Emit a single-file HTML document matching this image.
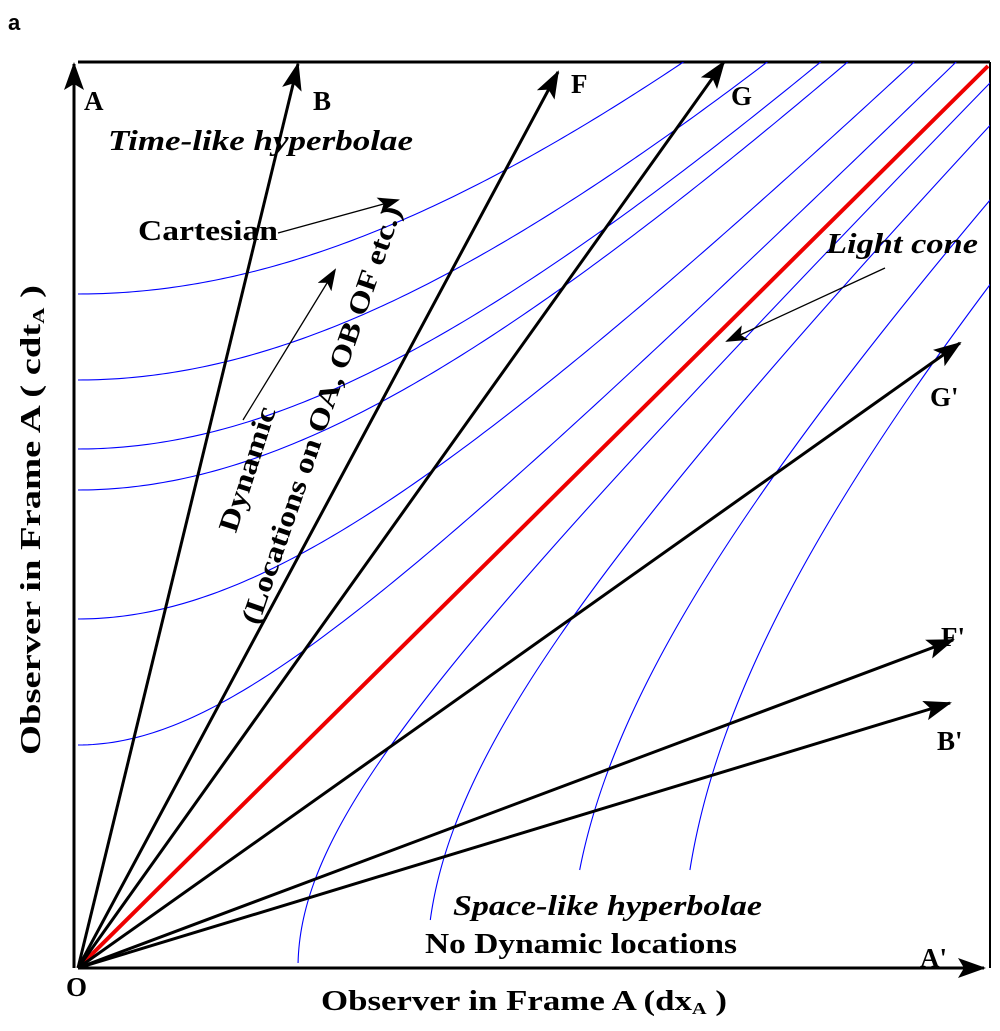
<!DOCTYPE html>
<html><head><meta charset="utf-8"><style>
html,body{margin:0;padding:0;background:#fff;}
svg{display:block;}
text{font-family:"Liberation Serif",serif;font-weight:bold;fill:#000;}
</style></head><body>
<svg width="1000" height="1031" viewBox="0 0 1000 1031" xmlns="http://www.w3.org/2000/svg">
<defs>
<marker id="ah" markerWidth="30" markerHeight="24" refX="26" refY="10" orient="auto" markerUnits="userSpaceOnUse">
<path d="M0,0 L28,10 L0,20 L6,10 Z" fill="#000"/>
</marker>
<marker id="sh" markerWidth="24" markerHeight="20" refX="20" refY="8" orient="auto" markerUnits="userSpaceOnUse">
<path d="M0,0 L22,8 L0,16 L5,8 Z" fill="#000"/>
</marker>
<clipPath id="box"><rect x="78" y="62" width="912" height="906"/></clipPath>
</defs>
<text x="8" y="30" style="font-family:'Liberation Sans',sans-serif" font-size="22">a</text>
<line x1="78" y1="62" x2="990" y2="62" stroke="#000" stroke-width="3"/>
<line x1="990" y1="62" x2="990" y2="968" stroke="#000" stroke-width="2"/>
<g clip-path="url(#box)" fill="none" stroke="#0000ff" stroke-width="1.1" id="hyp"></g>
<line x1="78" y1="968" x2="988" y2="66" stroke="#e00" stroke-width="4"/>
<line x1="74" y1="968" x2="74" y2="64" stroke="#000" stroke-width="3" marker-end="url(#ah)"/>
<line x1="78" y1="968" x2="984" y2="968" stroke="#000" stroke-width="3" marker-end="url(#ah)"/>
<g stroke="#000" stroke-width="3">
<line x1="78" y1="968" x2="298" y2="64" marker-end="url(#ah)"/>
<line x1="78" y1="968" x2="558" y2="72" marker-end="url(#ah)"/>
<line x1="78" y1="968" x2="724" y2="62" marker-end="url(#ah)"/>
<line x1="78" y1="968" x2="960" y2="343" marker-end="url(#ah)"/>
<line x1="78" y1="968" x2="953" y2="640" marker-end="url(#ah)"/>
<line x1="78" y1="968" x2="950" y2="703" marker-end="url(#ah)"/>
</g>
<g stroke="#000" stroke-width="1.3">
<line x1="278" y1="233" x2="398" y2="200" marker-end="url(#sh)"/>
<line x1="243" y1="420" x2="335" y2="270" marker-end="url(#sh)"/>
<line x1="885" y1="268" x2="727" y2="341" marker-end="url(#sh)"/>
</g>
<g font-size="27">
<text x="84" y="110">A</text>
<text x="313" y="110">B</text>
<text x="571" y="93">F</text>
<text x="731" y="105">G</text>
<text x="930" y="406">G'</text>
<text x="941" y="646">F'</text>
<text x="937" y="750">B'</text>
<text x="920" y="967">A'</text>
<text x="66" y="996">O</text>
</g>
<text x="108" y="150" font-size="28" font-style="italic" textLength="305" lengthAdjust="spacingAndGlyphs">Time-like  hyperbolae</text>
<text x="138" y="240" font-size="29" textLength="140" lengthAdjust="spacingAndGlyphs">Cartesian</text>
<text x="826" y="253" font-size="28" font-style="italic" textLength="152" lengthAdjust="spacingAndGlyphs">Light cone</text>
<text x="453" y="915" font-size="28" font-style="italic" textLength="309" lengthAdjust="spacingAndGlyphs">Space-like hyperbolae</text>
<text x="425" y="953" font-size="28" textLength="312" lengthAdjust="spacingAndGlyphs">No Dynamic locations</text>
<text x="321" y="1010" font-size="29" textLength="406" lengthAdjust="spacingAndGlyphs">Observer in Frame A  (dx<tspan font-size="17" dy="4">A</tspan><tspan dy="-4"> )</tspan></text>
<text transform="translate(40,520) rotate(-90)" text-anchor="middle" font-size="29" textLength="470" lengthAdjust="spacingAndGlyphs">Observer in Frame A  ( cdt<tspan font-size="17" dy="4">A</tspan><tspan dy="-4"> )</tspan></text>
<text transform="translate(256,472) rotate(-72)" text-anchor="middle" font-size="28" textLength="130" lengthAdjust="spacingAndGlyphs">Dynamic</text>
<text transform="translate(330,418) rotate(-71)" text-anchor="middle" font-size="28" textLength="440" lengthAdjust="spacingAndGlyphs">(Locations on OA, OB OF etc.)</text>
<script>
(function(){
var g=document.getElementById('hyp'),ns='http://www.w3.org/2000/svg';
function add(d){var p=document.createElementNS(ns,'path');p.setAttribute('d',d);g.appendChild(p);}
var ox=78,oy=968;
[674,588,519,478,349,223].forEach(function(a){
 var d='';for(var x=0;x<=1000;x+=5){var t=Math.sqrt(x*x+a*a);d+=(x?'L':'M')+(ox+x)+','+(oy-t);}add(d);
});
[[220,5],[349,48],[492,98],[604,98]].forEach(function(b){
 var d='';for(var t=b[1];t<=1000;t+=5){var x=Math.sqrt(t*t+b[0]*b[0]);d+=(t==b[1]?'M':'L')+(ox+x)+','+(oy-t);}add(d);
});
})();
</script>
</svg>
</body></html>
